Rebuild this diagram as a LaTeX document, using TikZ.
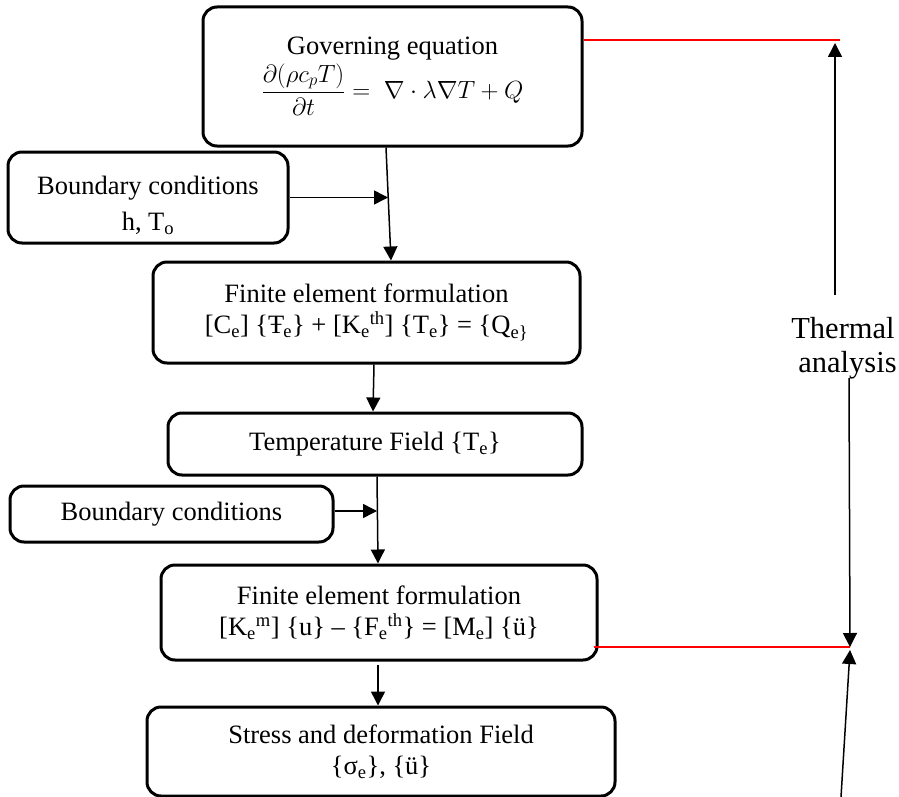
\documentclass[tikz,border=0pt]{standalone}
\usepackage{amsmath}
\usepackage{fontspec}
\setmainfont{Liberation Serif}
\usetikzlibrary{arrows.meta,calc}
\newcommand{\bxfont}{\fontsize{26.5}{31}\selectfont}
\newcommand{\lbfont}{\fontsize{30.5}{34}\selectfont}
\newcommand{\sbs}[1]{\textsubscript{#1}}
\newcommand{\sps}[1]{\textsuperscript{#1}}
\begin{document}
\begin{tikzpicture}[x=1pt,y=-1pt,
  box/.style={draw=black,line width=3pt,rounded corners=14pt,inner sep=0pt,
    align=center,font=\bxfont,fill=white},
  arr/.style={line width=1.5pt,-{Triangle[length=14pt,width=14pt]}},
  redline/.style={draw=red,line width=2pt},
  lab/.style={inner sep=0pt,font=\lbfont}]
\useasboundingbox (0,0) rectangle (899,797);
% boxes
\node[box,minimum width=379pt,minimum height=139pt] (gov) at (392.5,76.5)
  {Governing equation\\[2pt] $\displaystyle\frac{\partial(\rho c_pT)}{\partial t}=\ \nabla\cdot\lambda\nabla T+Q$};
\node[box,minimum width=280pt,minimum height=91pt,font=\fontsize{26.5}{36}\selectfont] (bc1) at (148,197.5)
  {\rule{0pt}{34pt}Boundary conditions\\h, T\sbs{o}};
\node[box,minimum width=427pt,minimum height=101pt] (fe1) at (366.5,312.5)
  {Finite element formulation\\{}[C\sbs{e}] \{Ŧ\kern-1pt\sbs{e}\} + [K\sbs{e}\sps{th}] \{T\sbs{e}\} = \{Q\sbs{e\}}};
\node[box,minimum width=414pt,minimum height=62pt] (temp) at (375,444)
  {Temperature Field \{T\sbs{e}\}};
\node[box,minimum width=323pt,minimum height=56pt] (bc2) at (171.5,514)
  {Boundary conditions};
\node[box,minimum width=436pt,minimum height=95pt] (fe2) at (379,612.5)
  {Finite element formulation\\{}[K\sbs{e}\sps{m}] \{u\} – \{F\sbs{e}\sps{th}\} = [M\sbs{e}] \{ü\}};
\node[box,minimum width=468pt,minimum height=89pt] (stress) at (381,751.5)
  {Stress and deformation Field\\\{σ\sbs{e}\}, \{ü\}};
% junction points
\coordinate (j1) at (388,197.5);
\coordinate (j2) at (377,511);
% flow connectors
\draw[arr] ([xshift=-6.5pt]gov.south) -- ([xshift=24.5pt]fe1.north);
\draw[arr] (bc1.east) -- (j1);
\draw[arr] ([xshift=7.5pt]fe1.south) -- ([xshift=-2pt]temp.north);
\draw[arr] ([xshift=2pt]temp.south) -- ([xshift=-1pt]fe2.north);
\draw[arr] ([yshift=3pt]bc2.east) -- (j2);
\draw[arr] ([xshift=-1pt,yshift=-3pt]fe2.south) -- ([xshift=-3pt]stress.north);
% right side
\coordinate (r1b) at (840,40);
\coordinate (r2b) at (850,647);
\coordinate (up1s) at (835,295);
\coordinate (up1e) at (835,43);
\coordinate (dn1s) at (849,378);
\coordinate (up2s) at (841,797);
\coordinate (up2e) at (850,650);
\draw[redline] (gov.east |- r1b) -- (r1b);
\draw[redline] ([xshift=-5pt]fe2.east |- r2b) -- (r2b);
\node[lab,anchor=base] (th) at (843,338) {Thermal};
\node[lab,anchor=base] (an) at (847.5,372) {analysis};
\draw[arr] (up1s) -- (up1e);
\draw[arr] (dn1s) -- (r2b);
\draw[arr] (up2s) -- (up2e);
\end{tikzpicture}
\end{document}
